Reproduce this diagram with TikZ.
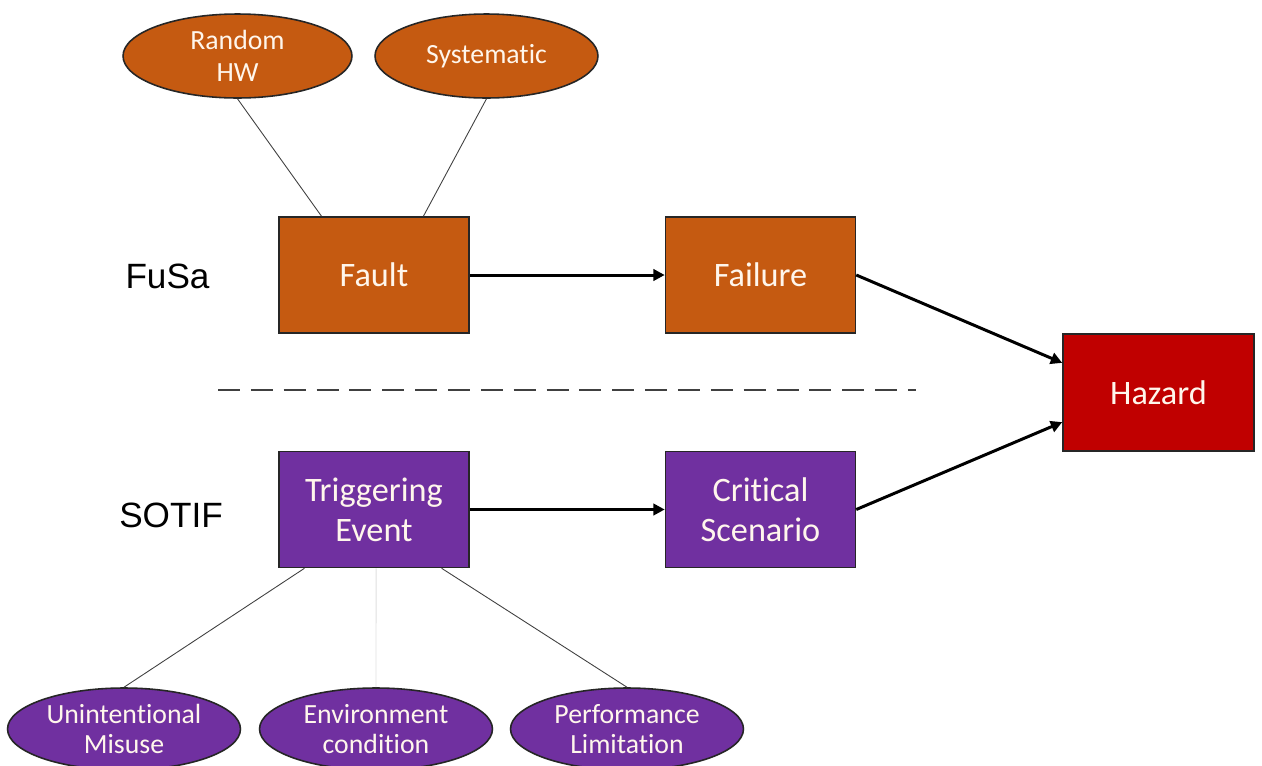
\documentclass[tikz,border=0pt]{standalone}
\usepackage{fontspec}
\setmainfont{Carlito}[Ligatures=NoCommon]
\newfontfamily\labelfont{Liberation Sans}
\usetikzlibrary{shapes.geometric,arrows.meta,calc}

\definecolor{fusaorange}{HTML}{C55A11}
\definecolor{sotifpurple}{HTML}{7030A0}
\definecolor{hazardred}{HTML}{C00000}
\definecolor{boxtext}{HTML}{FFF6EC}

\tikzset{
  box/.style={draw=black!85, line width=0.9pt, minimum width=3.8cm, minimum height=2.32cm,
    inner sep=0pt, text=boxtext, align=center, font=\fontsize{19.5}{22.7}\selectfont},
  cause/.style={shape=ellipse, draw=black!85, line width=0.9pt, inner sep=0pt,
    text=boxtext, align=center, font=\fontsize{15.8}{16.8}\selectfont},
  side/.style={font=\labelfont\fontsize{20}{24}\selectfont, text=black},
  flow/.style={line width=1.7pt, -{Triangle[length=6.5pt,width=6.5pt]}},
  link/.style={line width=0.5pt, draw=black!75},
  faint/.style={line width=0.5pt, draw=black!12},
  divider/.style={line width=1.1pt, draw=black!75, dash pattern=on 12.5pt off 6.2pt}
}

\begin{document}
\begin{tikzpicture}[x=0.02cm, y=-0.02cm]
  \useasboundingbox[fill=white] (0,0) rectangle (1262,765);

  % lane labels
  \node[side] (fusa)  at (167.5,276) {FuSa};
  \node[side] (sotif) at (171,515) {SOTIF};

  % FuSa chain
  \node[box, fill=fusaorange] (fault)   at (374,275)   {Fault};
  \node[box, fill=fusaorange] (failure) at (760.5,275) {Failure};

  % SOTIF chain
  \node[box, fill=sotifpurple] (trig) at (374,509.5)   {Triggering\\Event};
  \node[box, fill=sotifpurple] (crit) at (760.5,509.5) {Critical\\Scenario};

  % common outcome
  \node[box, fill=hazardred, minimum width=3.82cm, minimum height=2.34cm] (hazard) at (1158.5,392.5) {Hazard};

  % causes of faults
  \node[cause, fill=fusaorange, minimum width=4.58cm, minimum height=1.68cm,
        font=\fontsize{15.8}{18.5}\selectfont] (rhw) at (237.5,56) {Random\\HW};
  \node[cause, fill=fusaorange, minimum width=4.46cm, minimum height=1.68cm] (sys) at (486.5,56) {Systematic};

  % causes of triggering events
  \node[cause, fill=sotifpurple, minimum width=4.66cm, minimum height=1.64cm] (misuse) at (124,729) {Unintentional\\Misuse};
  \node[cause, fill=sotifpurple, minimum width=4.66cm, minimum height=1.64cm] (env)    at (376,729) {Environment\\condition};
  \node[cause, fill=sotifpurple, minimum width=4.66cm, minimum height=1.64cm] (perf)   at (627,729) {Performance\\Limitation};

  % separator between the two lanes
  \coordinate (sepL) at (218,390);
  \coordinate (sepR) at (916,390);
  \draw[divider] (sepL) -- (sepR);

  % cause links
  \draw[link] (rhw.south) -- ($(fault.north west)!0.226!(fault.north east)$);
  \draw[link] (sys.south) -- ($(fault.north west)!0.758!(fault.north east)$);
  \draw[link] ($(trig.south west)!0.137!(trig.south east)$) -- (misuse.north);
  \draw[faint] ($(trig.south west)!0.511!(trig.south east)$) -- (env.north);
  \draw[link] ($(trig.south west)!0.853!(trig.south east)$) -- (perf.north);

  % flow arrows
  \draw[flow] (fault.east) -- (failure.west);
  \draw[flow] (trig.east) -- (crit.west);
  \draw[flow] (failure.east) -- ($(hazard.north west)!0.25!(hazard.south west)$);
  \draw[flow] (crit.east) -- ($(hazard.north west)!0.75!(hazard.south west)$);
\end{tikzpicture}
\end{document}
